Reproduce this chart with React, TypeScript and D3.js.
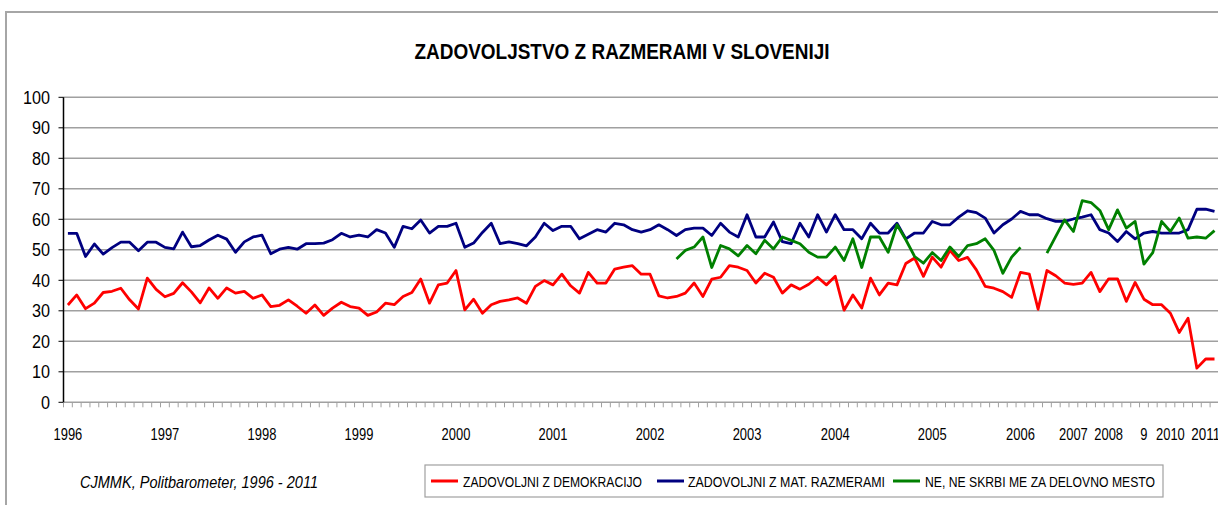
import React from "react";
import * as d3 from "d3";

const yearLabels: [number, string][] = [
  [0, "1996"], [11, "1997"], [22, "1998"], [33, "1999"], [44, "2000"], [55, "2001"],
  [66, "2002"], [77, "2003"], [87, "2004"], [98, "2005"], [108, "2006"], [114, "2007"],
  [118, "2008"], [122, "9"], [125, "2010"], [129, "2011"],
];

const demokracija: number[] = [
  31.9, 35.2, 30.7, 32.5, 36.0, 36.4, 37.4, 33.6, 30.6, 40.7, 37.0,
  34.6, 35.7, 39.2, 36.2, 32.6, 37.5, 34.1, 37.5, 35.8, 36.4, 34.1,
  35.2, 31.4, 31.8, 33.6, 31.5, 29.2, 31.9, 28.5, 30.9, 32.8, 31.4,
  30.9, 28.5, 29.6, 32.5, 32.0, 34.7, 36.0, 40.4, 32.5, 38.5, 39.1,
  43.2, 30.3, 33.8, 29.2, 32.0, 33.1, 33.6, 34.2, 32.5, 38.0, 39.9,
  38.5, 42.0, 38.2, 35.8, 42.6, 39.1, 39.1, 43.7, 44.3, 44.8, 42.0,
  42.0, 34.9, 34.2, 34.7, 35.8, 39.1, 34.7, 40.4, 41.0, 44.8, 44.3,
  43.2, 39.1, 42.3, 41.0, 35.8, 38.5, 37.1, 38.7, 41.0, 38.5, 41.3,
  30.2, 35.2, 30.9, 40.7, 35.2, 39.1, 38.5, 45.5, 47.3, 41.3, 47.6,
  44.3, 49.8, 46.5, 47.5, 43.4, 38.0, 37.4, 36.3, 34.4, 42.6, 42.0,
  30.5, 43.2, 41.5, 39.1, 38.7, 39.1, 42.6, 36.3, 40.5, 40.5, 33.1,
  39.3, 33.8, 32.0, 32.0, 29.2, 22.9, 27.6, 11.2, 14.2, 14.2,
];

const matRazmere: number[] = [
  55.4, 55.4, 47.8, 51.9, 48.6, 50.7, 52.5, 52.5, 49.7, 52.5, 52.5,
  50.8, 50.3, 55.8, 51.0, 51.4, 53.2, 54.8, 53.5, 49.2, 52.6, 54.2,
  54.8, 48.7, 50.2, 50.8, 50.2, 52.0, 52.0, 52.2, 53.3, 55.4, 54.2,
  54.8, 54.2, 56.6, 55.5, 50.8, 57.7, 56.9, 59.8, 55.5, 57.7, 57.7,
  58.7, 50.8, 52.2, 55.7, 58.7, 52.0, 52.6, 52.0, 51.3, 54.2, 58.7,
  56.3, 57.7, 57.7, 53.6, 55.1, 56.6, 55.8, 58.7, 58.2, 56.6, 55.8,
  56.6, 58.2, 56.6, 54.7, 56.6, 57.1, 57.1, 54.7, 58.7, 55.8, 54.2,
  61.5, 54.2, 54.2, 59.1, 52.7, 52.0, 58.7, 54.2, 61.5, 55.8, 61.5,
  56.6, 56.6, 53.6, 58.7, 55.5, 55.5, 58.7, 53.6, 55.5, 55.5, 59.3,
  58.2, 58.2, 60.7, 62.8, 62.2, 60.4, 55.5, 58.2, 60.1, 62.6, 61.5,
  61.5, 60.2, 59.3, 59.3, 60.1, 60.7, 61.5, 56.6, 55.5, 52.7, 56.0,
  53.6, 55.5, 56.0, 55.5, 55.5, 55.5, 56.6, 63.3, 63.3, 62.6,
];

const N = demokracija.length;
const greenStart = 69;
const delovnoMestoValues: (number | null)[] = [
  47.0, 49.8, 50.9, 54.2, 44.2, 51.4, 50.3, 48.0, 51.4, 48.7, 53.1,
  50.3, 54.2, 53.1, 52.0, 49.2, 47.6, 47.6, 50.9, 46.5, 53.6, 44.2,
  54.2, 54.2, 49.2, 58.2, 53.3, 47.8, 45.6, 49.1, 46.5, 50.9, 47.8,
  51.4, 52.0, 53.6, 49.8, 42.3, 47.6, 50.8, null, null, 48.9, 54.4,
  59.8, 56.0, 66.1, 65.5, 62.9, 56.6, 63.1, 57.1, 59.3, 45.3, 49.1,
  59.3, 56.0, 60.4, 53.8, 54.2, 53.8, 56.3,
];
const delovnoMesto: (number | null)[] = Array.from({ length: N }, (_, i) =>
  i < greenStart ? null : delovnoMestoValues[i - greenStart] ?? null
);

const yTicks = [0, 10, 20, 30, 40, 50, 60, 70, 80, 90, 100];

const seriesNames = [
  "ZADOVOLJNI Z DEMOKRACIJO",
  "ZADOVOLJNI Z MAT. RAZMERAMI",
  "NE, NE SKRBI ME ZA DELOVNO MESTO",
];

const FONT = "'Liberation Sans', Arial, sans-serif";

export default function App() {
  const left = 63.5;
  const band = 8.82;
  const x = d3.scaleBand<number>().domain(d3.range(N)).range([left, left + band * N]).padding(0);
  const y = d3.scaleLinear().domain([0, 100]).range([402.3, 97.3]);
  const cx = (i: number) => (x(i) as number) + x.bandwidth() / 2;

  const line = d3
    .line<number | null>()
    .defined((d) => d != null)
    .x((_, i) => cx(i))
    .y((d) => y(d as number));

  const series = [
    { data: demokracija, color: "#ff0000" },
    { data: matRazmere, color: "#000080" },
    { data: delovnoMesto, color: "#008000" },
  ];

  const legendItems = [
    { x: 431, color: "#ff0000", tx: 463, len: 179 },
    { x: 657, color: "#000080", tx: 688, len: 197 },
    { x: 893, color: "#008000", tx: 925, len: 230 },
  ];

  return (
    <svg
      width={1218}
      height={505}
      style={{ position: "absolute", left: 0, top: 0, background: "#fff" }}
      fontFamily={FONT}
    >
      <rect x={0} y={0} width={1218} height={505} fill="#fff" />
      <rect x={6} y={12} width={1400} height={700} fill="none" stroke="#a6a6a6" strokeWidth={2} />
      <text
        x={622}
        y={59}
        textAnchor="middle"
        fontSize={22}
        fontWeight="bold"
        textLength={415}
        lengthAdjust="spacingAndGlyphs"
      >
        ZADOVOLJSTVO Z RAZMERAMI V SLOVENIJI
      </text>

      {yTicks.map((t) => (
        <g key={t}>
          {t > 0 && (
            <line x1={left} x2={1218} y1={y(t)} y2={y(t)} stroke="#a0a0a0" strokeWidth={1.5} />
          )}
          <line x1={left - 5} x2={left} y1={y(t)} y2={y(t)} stroke="#000" strokeWidth={1} />
          <text
            x={50}
            y={y(t) + 6.5}
            textAnchor="end"
            fontSize={17.5}
            textLength={String(t).length * 9}
            lengthAdjust="spacingAndGlyphs"
          >
            {t}
          </text>
        </g>
      ))}

      <line x1={left} x2={1218} y1={y(0)} y2={y(0)} stroke="#a0a0a0" strokeWidth={1.5} />
      {d3.range(N + 1).map((i) => (
        <line
          key={i}
          x1={left + i * band}
          x2={left + i * band}
          y1={y(0)}
          y2={y(0) + 5}
          stroke="#a0a0a0"
          strokeWidth={1}
        />
      ))}
      <line x1={left} x2={left} y1={y(100)} y2={y(0)} stroke="#000" strokeWidth={1.5} />

      {yearLabels.map(([i, lab]) => (
        <text
          key={lab}
          x={cx(i)}
          y={440}
          textAnchor="middle"
          fontSize={16.5}
          textLength={lab.length * 7.2}
          lengthAdjust="spacingAndGlyphs"
        >
          {lab}
        </text>
      ))}

      {series.map((s, k) => (
        <path
          key={k}
          d={line(s.data as (number | null)[]) || ""}
          fill="none"
          stroke={s.color}
          strokeWidth={2.8}
          strokeLinejoin="round"
        />
      ))}

      <text
        x={80}
        y={488}
        fontSize={16.5}
        fontStyle="italic"
        textLength={238}
        lengthAdjust="spacingAndGlyphs"
      >
        CJMMK, Politbarometer, 1996 - 2011
      </text>

      <rect x={425} y={465} width={738} height={32} fill="#fff" stroke="#a0a0a0" strokeWidth={1.2} />
      {legendItems.map((it, k) => (
        <g key={k}>
          <line x1={it.x} x2={it.x + 27} y1={481} y2={481} stroke={it.color} strokeWidth={3} />
          <text
            x={it.tx}
            y={487}
            fontSize={15.5}
            textLength={it.len}
            lengthAdjust="spacingAndGlyphs"
          >
            {seriesNames[k]}
          </text>
        </g>
      ))}
    </svg>
  );
}
